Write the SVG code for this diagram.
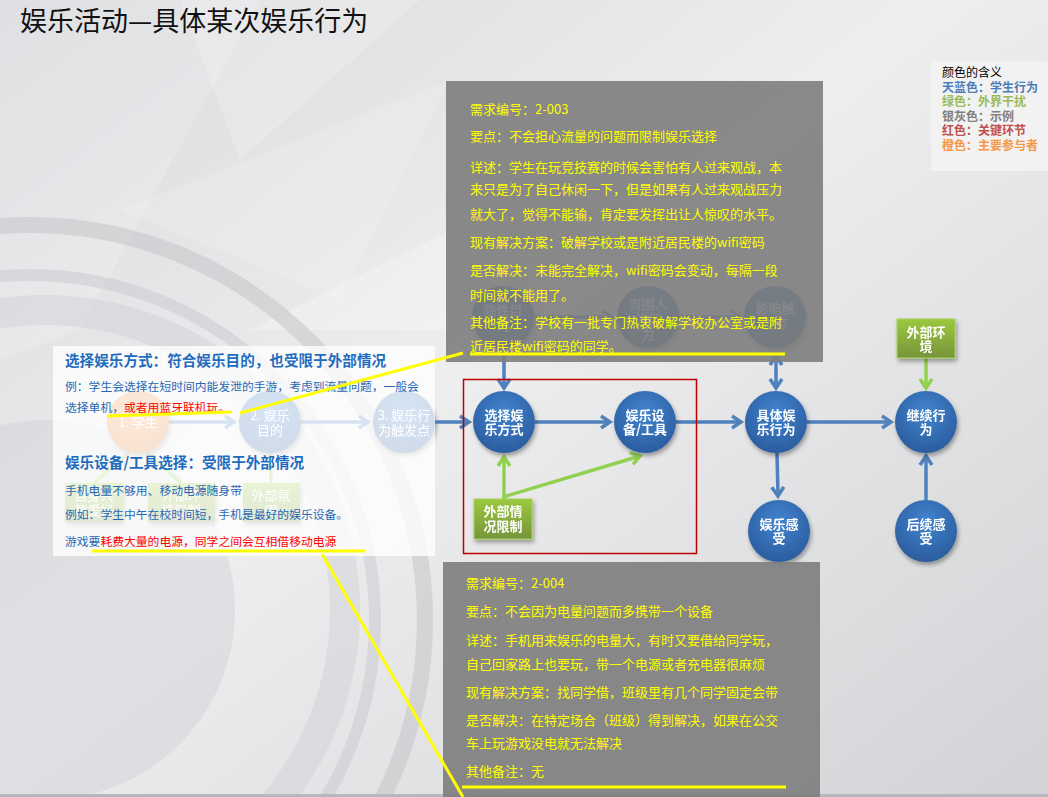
<svg xmlns="http://www.w3.org/2000/svg" width="1048" height="797" viewBox="0 0 1048 797">
<defs>
<style>
text{font-family:"Noto Sans CJK SC","Microsoft YaHei",sans-serif}
.nt{fill:#fff;font-size:13px;font-weight:bold;text-anchor:middle}
.ft{fill:#fff;font-size:13px;text-anchor:middle}
.yl{fill:#ffff00;font-size:13px}
.bl{fill:#2668b3;font-size:11.8px}
.rd{fill:#ff0000}
.hd{fill:#1f6cbf;font-size:14.6px;font-weight:bold}
.lg{font-size:12px;font-weight:bold}
.cb{stroke:#4f81bd;stroke-width:3.5;fill:none}
.cg{stroke:#92d050;stroke-width:3.5;fill:none}
.yw{stroke:#ffff00;stroke-width:3;fill:none}
</style>
<linearGradient id="bg" x1="0" y1="0" x2="1" y2="1">
<stop offset="0" stop-color="#d9dadd"/>
<stop offset="0.45" stop-color="#eeeeef"/>
<stop offset="1" stop-color="#d2d3d6"/>
</linearGradient>
<radialGradient id="nb" cx="0.5" cy="0.35" r="0.65">
<stop offset="0" stop-color="#4285d0"/>
<stop offset="1" stop-color="#2b5c9e"/>
</radialGradient>
<radialGradient id="no" cx="0.5" cy="0.35" r="0.65">
<stop offset="0" stop-color="#f9a25c"/>
<stop offset="1" stop-color="#e07b30"/>
</radialGradient>
<linearGradient id="gb" x1="0" y1="0" x2="0" y2="1">
<stop offset="0" stop-color="#9cc83f"/>
<stop offset="1" stop-color="#76953a"/>
</linearGradient>
<filter id="sh" x="-30%" y="-30%" width="160%" height="160%">
<feDropShadow dx="1.5" dy="3" stdDeviation="2" flood-color="#000" flood-opacity="0.35"/>
</filter>
<marker id="ab" markerUnits="userSpaceOnUse" markerWidth="16" markerHeight="16" refX="11" refY="8" orient="auto-start-reverse">
<path d="M2,2 L11,8 L2,14" fill="none" stroke="#4f81bd" stroke-width="3.5"/>
</marker>
<marker id="ag" markerUnits="userSpaceOnUse" markerWidth="16" markerHeight="16" refX="11" refY="8" orient="auto">
<path d="M2,2 L11,8 L2,14" fill="none" stroke="#92d050" stroke-width="3.5"/>
</marker>
</defs>

<g id="background">
<rect width="1048" height="797" fill="url(#bg)"/>
<polygon points="0,0 260,0 80,330 0,360" fill="#ffffff" opacity="0.18"/>
<polygon points="180,0 420,0 240,160" fill="#ffffff" opacity="0.2"/>
<polygon points="120,210 450,80 340,300" fill="#ffffff" opacity="0.15"/>
<polygon points="250,330 450,230 450,330" fill="#ffffff" opacity="0.25"/>
<circle cx="30" cy="620" r="395" fill="none" stroke="#c4c5c9" stroke-width="16" opacity="0.55"/>
<circle cx="30" cy="620" r="345" fill="none" stroke="#c4c5c9" stroke-width="12" opacity="0.45"/>
<circle cx="45" cy="610" r="190" fill="#cfd0d4" opacity="0.45"/>
<circle cx="45" cy="610" r="300" fill="none" stroke="#d0d1d5" stroke-width="30" opacity="0.5"/>
<rect x="0" y="794" width="1048" height="3" fill="#b6b8bd"/>
</g>

<g id="title"><text x="20" y="31" font-size="27" fill="#111">娱乐活动—具体某次娱乐行为</text></g>

<g id="faded-connectors">
<line x1="169" y1="422" x2="234" y2="422" class="cb" marker-end="url(#ab)"/>
<line x1="301" y1="422" x2="368" y2="422" class="cb" marker-end="url(#ab)"/>
<line x1="94" y1="483" x2="130" y2="452" class="cg"/>
<line x1="181" y1="483" x2="146" y2="452" class="cg"/>
<line x1="271" y1="483" x2="270" y2="453" class="cg"/>
<line x1="535" y1="317" x2="612" y2="317" class="cb" marker-end="url(#ab)"/>
<line x1="679" y1="317" x2="740" y2="317" class="cb" marker-end="url(#ab)"/>
</g>

<g id="n-student" filter="url(#sh)"><circle cx="138" cy="422" r="31" fill="url(#no)"/><text class="ft" x="138" y="427">1. 学生</text></g>
<g id="n-purpose" filter="url(#sh)"><circle cx="270" cy="422" r="31" fill="url(#nb)"/><text class="ft" x="270" y="420">2. 娱乐</text><text class="ft" x="270" y="435">目的</text></g>
<g id="n-trigger" filter="url(#sh)"><circle cx="404" cy="422" r="31" fill="url(#nb)"/><text class="ft" x="404" y="420">3. 娱乐行</text><text class="ft" x="404" y="435">为触发点</text></g>
<g id="n-self" filter="url(#sh)"><rect x="65" y="483" width="58" height="39" fill="url(#gb)"/><text class="ft" x="94" y="500">自身兴</text><text class="ft" x="94" y="515">趣爱好</text></g>
<g id="n-envlimit" filter="url(#sh)"><rect x="148" y="483" width="67" height="39" fill="url(#gb)"/><text class="ft" x="181" y="500">外部环</text><text class="ft" x="181" y="515">境限制</text></g>
<g id="n-atmos" filter="url(#sh)"><rect x="243" y="483" width="57" height="39" fill="url(#gb)"/><text class="ft" x="271" y="500">外部氛</text><text class="ft" x="271" y="515">围</text></g>

<g id="n-hidden" filter="url(#sh)"><circle cx="503" cy="317" r="31" fill="url(#nb)"/><text class="ft" x="503" y="315">隐性目</text><text class="ft" x="503" y="330">的</text></g>
<g id="n-people" filter="url(#sh)"><circle cx="648" cy="317" r="31" fill="url(#nb)"/><text class="ft" x="648" y="309">周围人</text><text class="ft" x="648" y="324">的行</text><text class="ft" x="648" y="339">为</text></g>
<g id="n-affect" filter="url(#sh)"><circle cx="775" cy="317" r="31" fill="url(#nb)"/><text class="ft" x="775" y="313">影响触</text><text class="ft" x="775" y="328">发点</text></g>

<g id="connectors">
<line x1="435" y1="422" x2="469" y2="422" class="cb" marker-end="url(#ab)"/>
<line x1="535" y1="422" x2="610" y2="422" class="cb" marker-end="url(#ab)"/>
<line x1="676" y1="422" x2="741" y2="422" class="cb" marker-end="url(#ab)"/>
<line x1="807" y1="422" x2="891" y2="422" class="cb" marker-end="url(#ab)"/>
<line x1="777" y1="453" x2="778" y2="496" class="cb" marker-end="url(#ab)"/>
<line x1="926" y1="500" x2="926" y2="456" class="cb" marker-end="url(#ab)"/>
<line x1="504" y1="348" x2="504" y2="388" class="cb" marker-end="url(#ab)"/>
<line x1="776" y1="356" x2="776" y2="388" class="cb" marker-start="url(#ab)" marker-end="url(#ab)"/>
<line x1="926" y1="358" x2="926" y2="388" class="cg" marker-end="url(#ag)"/>
<line x1="504" y1="499" x2="504" y2="457" class="cg" marker-end="url(#ag)"/>
<line x1="503" y1="497" x2="640" y2="456" class="cg" marker-end="url(#ag)"/>
</g>

<g id="n-choose" filter="url(#sh)"><circle cx="504" cy="422" r="31" fill="url(#nb)"/><text class="nt" x="504" y="420">选择娱</text><text class="nt" x="504" y="434">乐方式</text></g>
<g id="n-device" filter="url(#sh)"><circle cx="645" cy="422" r="31" fill="url(#nb)"/><text class="nt" x="645" y="420">娱乐设</text><text class="nt" x="645" y="434">备/工具</text></g>
<g id="n-behavior" filter="url(#sh)"><circle cx="776" cy="422" r="31" fill="url(#nb)"/><text class="nt" x="776" y="420">具体娱</text><text class="nt" x="776" y="434">乐行为</text></g>
<g id="n-continue" filter="url(#sh)"><circle cx="926" cy="422" r="31" fill="url(#nb)"/><text class="nt" x="926" y="420">继续行</text><text class="nt" x="926" y="434">为</text></g>
<g id="n-feel" filter="url(#sh)"><circle cx="779" cy="531" r="31" fill="url(#nb)"/><text class="nt" x="779" y="529">娱乐感</text><text class="nt" x="779" y="543">受</text></g>
<g id="n-after" filter="url(#sh)"><circle cx="926" cy="531" r="31" fill="url(#nb)"/><text class="nt" x="926" y="529">后续感</text><text class="nt" x="926" y="543">受</text></g>
<g id="n-env" filter="url(#sh)"><rect x="897" y="319" width="58" height="39" fill="url(#gb)" stroke="#a6d25a" stroke-width="1"/><text class="nt" x="926" y="337">外部环</text><text class="nt" x="926" y="351">境</text></g>
<g id="n-external" filter="url(#sh)"><rect x="474" y="499" width="58" height="40" fill="url(#gb)" stroke="#a6d25a" stroke-width="1"/><text class="nt" x="503" y="516">外部情</text><text class="nt" x="503" y="531">况限制</text></g>

<g id="key-frame"><rect x="463.5" y="379.5" width="233" height="174" fill="none" stroke="#c00000" stroke-width="1.5"/></g>

<g id="note-left">
<rect x="53" y="346" width="382" height="210" fill="#ffffff" opacity="0.78"/>
<text class="hd" x="65" y="366">选择娱乐方式：符合娱乐目的，也受限于外部情况</text>
<text class="bl" x="65" y="391">例：学生会选择在短时间内能发泄的手游，考虑到流量问题，一般会</text>
<text class="bl" x="65" y="412">选择单机，<tspan class="rd">或者用蓝牙联机玩。</tspan></text>
<text class="hd" x="65" y="468">娱乐设备/工具选择：受限于外部情况</text>
<text class="bl" x="65" y="495">手机电量不够用、移动电源随身带</text>
<text class="bl" x="65" y="519">例如：学生中午在校时间短，手机是最好的娱乐设备。</text>
<text class="bl" x="65" y="546">游戏要<tspan class="rd">耗费大量的电源，同学之间会互相借移动电源</tspan></text>
</g>

<g id="note-2-003">
<rect x="446" y="81" width="377" height="281" fill="#7d7d7d" opacity="0.9"/>
<text class="yl" x="470" y="114">需求编号：2-003</text>
<text class="yl" x="470" y="141">要点：不会担心流量的问题而限制娱乐选择</text>
<text class="yl" x="470" y="172">详述：学生在玩竞技赛的时候会害怕有人过来观战，本</text>
<text class="yl" x="470" y="194">来只是为了自己休闲一下，但是如果有人过来观战压力</text>
<text class="yl" x="470" y="219">就大了，觉得不能输，肯定要发挥出让人惊叹的水平。</text>
<text class="yl" x="470" y="247">现有解决方案：破解学校或是附近居民楼的wifi密码</text>
<text class="yl" x="470" y="275">是否解决：未能完全解决，wifi密码会变动，每隔一段</text>
<text class="yl" x="470" y="300">时间就不能用了。</text>
<text class="yl" x="470" y="327">其他备注：学校有一批专门热衷破解学校办公室或是附</text>
<text class="yl" x="470" y="351">近居民楼wifi密码的同学。</text>
</g>

<g id="note-2-004">
<rect x="443" y="562" width="377" height="235" fill="#7d7d7d" opacity="0.9"/>
<text class="yl" x="466" y="588">需求编号：2-004</text>
<text class="yl" x="466" y="616">要点：不会因为电量问题而多携带一个设备</text>
<text class="yl" x="466" y="645">详述：手机用来娱乐的电量大，有时又要借给同学玩，</text>
<text class="yl" x="466" y="669">自己回家路上也要玩，带一个电源或者充电器很麻烦</text>
<text class="yl" x="466" y="697">现有解决方案：找同学借，班级里有几个同学固定会带</text>
<text class="yl" x="466" y="725">是否解决：在特定场合（班级）得到解决，如果在公交</text>
<text class="yl" x="466" y="748">车上玩游戏没电就无法解决</text>
<text class="yl" x="466" y="776">其他备注：无</text>
</g>

<g id="highlight-lines">
<line x1="107" y1="416" x2="232" y2="412" class="yw"/>
<line x1="240" y1="413" x2="463" y2="353" class="yw"/>
<line x1="470" y1="354" x2="785" y2="354" class="yw"/>
<line x1="92" y1="551" x2="365" y2="551" class="yw"/>
<line x1="322" y1="554" x2="463" y2="797" class="yw"/>
<line x1="462" y1="787" x2="786" y2="787" class="yw"/>
</g>

<g id="legend">
<rect x="931" y="61" width="117" height="110" fill="#f2f2f2"/>
<text x="942" y="77" font-size="12" fill="#000">颜色的含义</text>
<text class="lg" x="942" y="92" fill="#4a7ebb">天蓝色：学生行为</text>
<text class="lg" x="942" y="106" fill="#9bbb59">绿色：外界干扰</text>
<text class="lg" x="942" y="121" fill="#7f7f7f">银灰色：示例</text>
<text class="lg" x="942" y="135" fill="#c0504d" font-weight="normal">红色：关键环节</text>
<text class="lg" x="942" y="150" fill="#f79646" font-weight="normal">橙色：主要参与者</text>
</g>
</svg>
